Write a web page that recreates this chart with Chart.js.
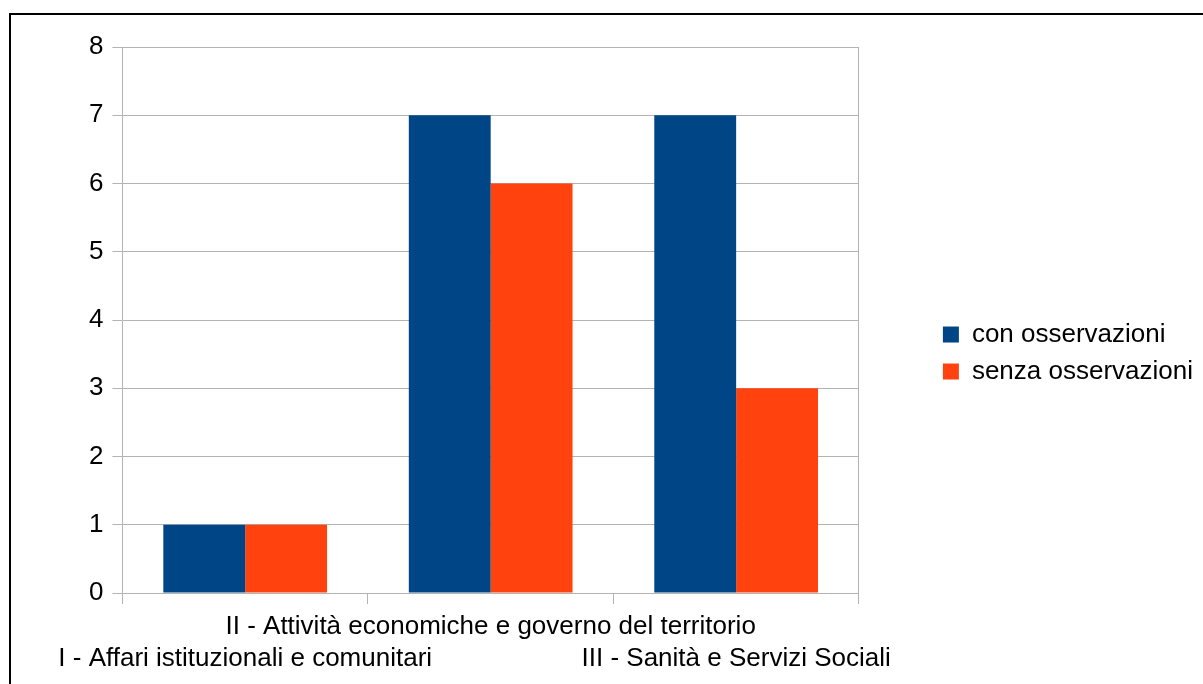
<!DOCTYPE html>
<html>
<head>
<meta charset="utf-8">
<script src="https://cdn.jsdelivr.net/npm/chart.js@4"></script>
<style>
    html, body { margin: 0; padding: 0; background: #ffffff; }
    #wrap { position: relative; width: 1203px; height: 684px; overflow: hidden; }
    #frame {
        position: absolute; left: 9px; top: 13px; width: 1300px; height: 800px;
        border-left: 2px solid #000; border-top: 2px solid #000;
    }
    #chart-box { position: absolute; left: 0; top: 0; width: 1203px; height: 684px; }
</style>
</head>
<body>
<div id="wrap">
    <div id="frame"></div>
    <div id="chart-box"><canvas id="chart"></canvas></div>
</div>
<script>
const categories = [
    'I - Affari istituzionali e comunitari',
    'II - Attività economiche e governo del territorio',
    'III - Sanità e Servizi Sociali'
];
const seriesNames = ['con osservazioni', 'senza osservazioni'];
const conOsservazioni = [1, 7, 7];
const senzaOsservazioni = [1, 6, 3];
const yMin = 0, yMax = 8, yStep = 1;

const gridColor = '#b3b3b3';
const fontFamily = '"Liberation Sans", Arial, sans-serif';

new Chart(document.getElementById('chart'), {
    type: 'bar',
    data: {
        labels: categories,
        datasets: [
            { label: seriesNames[0], data: conOsservazioni, backgroundColor: '#004586' },
            { label: seriesNames[1], data: senzaOsservazioni, backgroundColor: '#ff420e' }
        ]
    },
    options: {
        responsive: true,
        maintainAspectRatio: false,
        animation: false,
        layout: { padding: { top: 47, left: 80, bottom: 2, right: 0 } },
        datasets: {
            bar: { categoryPercentage: 0.667, barPercentage: 1.0 }
        },
        scales: {
            x: {
                grid: { drawOnChartArea: false, color: gridColor, tickLength: 11, offset: true },
                border: { display: false },
                ticks: {
                    color: '#000',
                    font: { family: fontFamily, size: 26, lineHeight: 1.23 },
                    padding: 7,
                    maxRotation: 0,
                    autoSkip: false,
                    // staggered labels: the middle one on the first row
                    callback: (v, i) => i % 2 === 1 ? [categories[i], ''] : ['', categories[i]]
                }
            },
            y: {
                min: yMin,
                max: yMax,
                grid: { color: gridColor, tickLength: 10 },
                border: { display: true, color: gridColor },
                ticks: {
                    stepSize: yStep,
                    color: '#000',
                    font: { family: fontFamily, size: 26 },
                    padding: 9
                }
            },
            yRight: {
                position: 'right',
                min: yMin,
                max: yMax,
                grid: { display: false },
                border: { display: true, color: gridColor },
                ticks: { display: false },
                afterFit: s => { s.width = 73; }
            }
        },
        plugins: {
            legend: {
                position: 'right',
                fullSize: false,
                maxWidth: 320,
                title: { display: true, text: ' ', font: { size: 20, lineHeight: 1.2 }, padding: { top: 21, bottom: 21 } },
                labels: {
                    boxWidth: 16,
                    boxHeight: 16,
                    padding: 11,
                    color: '#000',
                    font: { family: fontFamily, size: 26 }
                }
            },
            tooltip: { enabled: false }
        }
    }
});
</script>
</body>
</html>
